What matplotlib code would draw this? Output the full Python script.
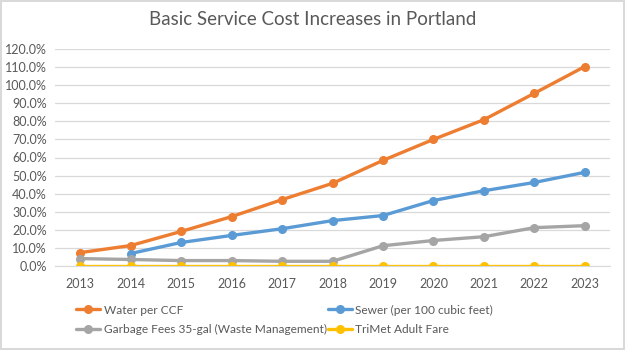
import matplotlib.pyplot as plt
from matplotlib.ticker import FuncFormatter

# Données (lecture du graphique)
years = [2013, 2014, 2015, 2016, 2017, 2018, 2019, 2020, 2021, 2022, 2023]
water = [7.4, 11.3, 19.1, 27.3, 36.7, 45.7, 58.4, 70.0, 80.9, 95.5, 110.3]
sewer = [None, 6.9, 13.0, 16.9, 20.6, 25.1, 27.9, 36.2, 41.6, 46.2, 51.8]
garbage = [4.1, 3.6, 3.0, 3.0, 2.6, 2.6, 11.2, 14.1, 16.2, 21.2, 22.3]
trimet = [0.0] * 11

series = [
    ("Water per CCF", water, "#ED7D31"),
    ("Sewer (per 100 cubic feet)", sewer, "#5B9BD5"),
    ("Garbage Fees 35-gal (Waste Management)", garbage, "#A5A5A5"),
    ("TriMet Adult Fare", trimet, "#FFC000"),
]

plt.rcParams['font.family'] = ['Lato', 'DejaVu Sans']

fig = plt.figure(figsize=(6.25, 3.5), dpi=100)
fig.patch.set_edgecolor("#d9d9d9")
fig.patch.set_linewidth(1.5)
ax = fig.add_axes([0.088, 0.24, 0.888, 0.62])

x = list(range(len(years)))
handles = []
for label, vals, color in series:
    xs = [i for i, v in zip(x, vals) if v is not None]
    ys = [v for v in vals if v is not None]
    h, = ax.plot(xs, ys, color=color, lw=2.4, marker="o", ms=5.5, label=label,
                 solid_capstyle="round")
    handles.append(h)

ax.set_xlim(-0.5, len(years) - 0.5)
ax.set_ylim(0, 120)
ax.set_yticks(range(0, 121, 10))
ax.yaxis.set_major_formatter(FuncFormatter(lambda v, p: f"{v:.1f}%"))
ax.set_xticks(x)
ax.set_xticklabels([str(y) for y in years])
ax.grid(axis="y", color="#d9d9d9", lw=0.9)
ax.set_axisbelow(True)
for s in ["top", "right", "left"]:
    ax.spines[s].set_visible(False)
ax.spines["bottom"].set_color("#d9d9d9")
ax.tick_params(axis="both", length=0, labelsize=9, colors="#595959", pad=6)
ax.tick_params(axis="x", pad=9)

fig.text(0.5, 0.945, "Basic Service Cost Increases in Portland", ha="center",
         va="center", fontsize=13.5, color="#595959")

order = [0, 2, 1, 3]
fig.legend([handles[i] for i in order], [series[i][0] for i in order],
           ncol=2, loc="upper left", bbox_to_anchor=(0.122, 0.13), frameon=False,
           fontsize=8.6, labelcolor="#595959", handlelength=2.0, handletextpad=0.3,
           columnspacing=0.1, labelspacing=0.7, borderaxespad=0, borderpad=0)

fig.savefig("out.png", dpi=100)
